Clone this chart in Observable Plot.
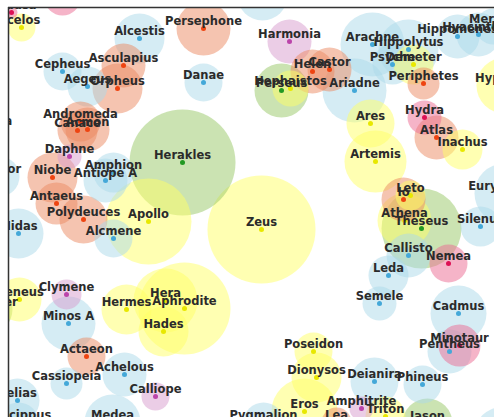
<!DOCTYPE html>
<html>
<head>
<meta charset="utf-8">
<script src="https://cdn.jsdelivr.net/npm/d3@7"></script>
<script src="https://cdn.jsdelivr.net/npm/@observablehq/plot@0.6"></script>
<style>
  html, body { margin: 0; padding: 0; background: #fff; }
  #chart svg { display: block; }
</style>
</head>
<body>
<div id="chart"></div>
<script>
// Node names ("" = circle whose label lies outside the view)
const names = [
  "Medusa", "", "Icelos", "Alcestis", "Persephone", "", "Cepheus", "Asculapius", "Aegeus", "Orpheus",
  "Danae", "Andromeda", "Canace", "Acmon", "Atalanta", "Herakles", "Daphne", "Niobe", "Hector", "Amphion",
  "Antiope A", "Antaeus", "Polydeuces", "Apollo", "Alcmene", "Midas", "Zeus", "Harmonia", "Helen", "Castor",
  "Perseus", "Hephaistos", "Arachne", "Hippolytus", "Psyche", "Demeter", "Hippomenes", "Hyacinthus", "Merope", "Ariadne",
  "Periphetes", "Hyperion", "Ares", "Hydra", "Atlas", "Inachus", "Artemis", "Leto", "Io", "Athena",
  "Theseus", "Eurystheus", "Silenus", "Callisto", "Nemea", "Leda", "Semele", "Cadmus", "Minotaur", "Pentheus",
  "Oeneus", "Meleager", "Clymene", "Minos A", "Hermes", "Hera", "Aphrodite", "Hades", "Actaeon", "Achelous",
  "Cassiopeia", "Calliope", "Pelias", "Leucippus", "Medea", "Pygmalion", "Poseidon", "Dionysos", "Deianira", "Phineus",
  "Eros", "Amphitrite", "Lea", "Triton", "Jason", ""
];
// Layout position (x) of each node
const xs = [
  11, 62, 21, 139, 203, 262, 62, 123, 87, 117,
  203, 80, 77, 87, -16, 182, 69, 52, -1, 113,
  105, 56, 83, 148, 113, 18, 261, 289, 312, 329,
  281, 290, 372, 408, 392, 413, 457, 478, 493, 354,
  423, 504, 370, 424, 436, 462, 375, 410, 403, 404,
  421, 504, 480, 408, 448, 388, 379, 458, 459, 449,
  19, -13, 66, 68, 126, 165, 184, 163, 86, 124,
  66, 155, 17, 18, 112, 263, 313, 316, 374, 422,
  304, 361, 336, 385, 427, 500
];
// Layout position (y, downward) of each node
const ys = [
  12, -3, 27, 38, 28, -5, 71, 65, 86, 88,
  82, 121, 130, 129, 128, 162, 156, 177, 176, 172,
  180, 203, 219, 221, 238, 233, 229, 41, 71, 69,
  90, 88, 44, 49, 64, 64, 36, 34, 26, 90,
  83, 85, 123, 117, 137, 149, 161, 195, 199, 220,
  228, 193, 226, 255, 263, 275, 303, 313, 345, 351,
  299, 309, 294, 323, 309, 300, 308, 331, 356, 374,
  383, 396, 400, 422, 422, 422, 351, 377, 381, 384,
  411, 408, 422, 416, 423, 432
];
// Circle size of each node
const radii = [
  6, 18, 14, 25, 27, 25, 19, 22, 20, 25,
  19, 20, 20, 22, 15, 53, 12, 25, 20, 20,
  22, 21, 24, 43, 19, 25, 54, 22, 22, 22,
  27, 18, 32, 30, 20, 20, 22, 22, 18, 32,
  16, 28, 24, 17, 22, 20, 31, 15, 22, 27,
  40, 30, 20, 22, 19, 20, 17, 28, 21, 22,
  22, 25, 15, 27, 25, 32, 46, 25, 19, 22,
  16, 14, 22, 20, 28, 20, 19, 25, 24, 19,
  33, 12, 15, 20, 25, 25
];
// Category of each node
const groups = [
  "monster", "monster", "god", "mortal", "demigod", "mortal", "mortal", "demigod", "mortal", "demigod",
  "mortal", "demigod", "demigod", "demigod", "mortal", "hero", "nymph", "demigod", "mortal", "mortal",
  "mortal", "demigod", "demigod", "god", "mortal", "mortal", "god", "nymph", "demigod", "demigod",
  "hero", "god", "mortal", "mortal", "mortal", "god", "mortal", "mortal", "mortal", "mortal",
  "demigod", "god", "god", "monster", "demigod", "god", "god", "god", "demigod", "god",
  "hero", "mortal", "mortal", "mortal", "monster", "mortal", "mortal", "mortal", "monster", "mortal",
  "god", "hero", "nymph", "mortal", "god", "god", "god", "god", "demigod", "mortal",
  "mortal", "nymph", "mortal", "mortal", "mortal", "mortal", "god", "god", "mortal", "mortal",
  "god", "nymph", "demigod", "god", "hero", "mortal"
];

const groupNames = ["mortal", "demigod", "god", "hero", "nymph", "monster"];
const haloColors = ["#abd9e9", "#eb8a62", "#ffff66", "#98c866", "#d79bcd", "#eb6991"];
const coreColors = ["#44a8d8", "#ee4411", "#e8e800", "#229922", "#bb44aa", "#dd1155"];
const viewX = [8, 494];
const viewY = [7, 417];

const halo = Object.fromEntries(groupNames.map((g, i) => [g, haloColors[i]]));
const core = Object.fromEntries(groupNames.map((g, i) => [g, coreColors[i]]));

const nodes = names.map((name, i) => ({name, x: xs[i], y: ys[i], r: radii[i], group: groups[i]}));

const chart = Plot.plot({
  width: 494,
  height: 417,
  marginLeft: 8,
  marginTop: 7,
  marginRight: 0,
  marginBottom: 0,
  x: {domain: viewX, range: viewX, axis: null},
  y: {domain: viewY, range: viewY, axis: null},
  r: {type: "identity"},
  color: {type: "identity"},
  style: {fontFamily: "DejaVu Sans", background: "white"},
  marks: [
    Plot.dot(nodes, {x: "x", y: "y", r: "r", fill: d => halo[d.group], fillOpacity: 0.5, clip: true}),
    Plot.dot(nodes.filter(d => d.name !== ""), {x: "x", y: "y", r: 2.5, fill: d => core[d.group], clip: true, sort: null}),
    Plot.text(nodes, {x: "x", y: "y", text: "name", dy: -7, fontSize: 11.5, fontWeight: "bold",
      fill: "#2b2b2b", fontFamily: "DejaVu Sans", clip: true}),
    Plot.ruleX([viewX[0]], {stroke: "#333", strokeWidth: 1.5}),
    Plot.ruleY([viewY[0]], {stroke: "#333", strokeWidth: 1.5})
  ]
});
document.getElementById("chart").append(chart);
</script>
</body>
</html>
